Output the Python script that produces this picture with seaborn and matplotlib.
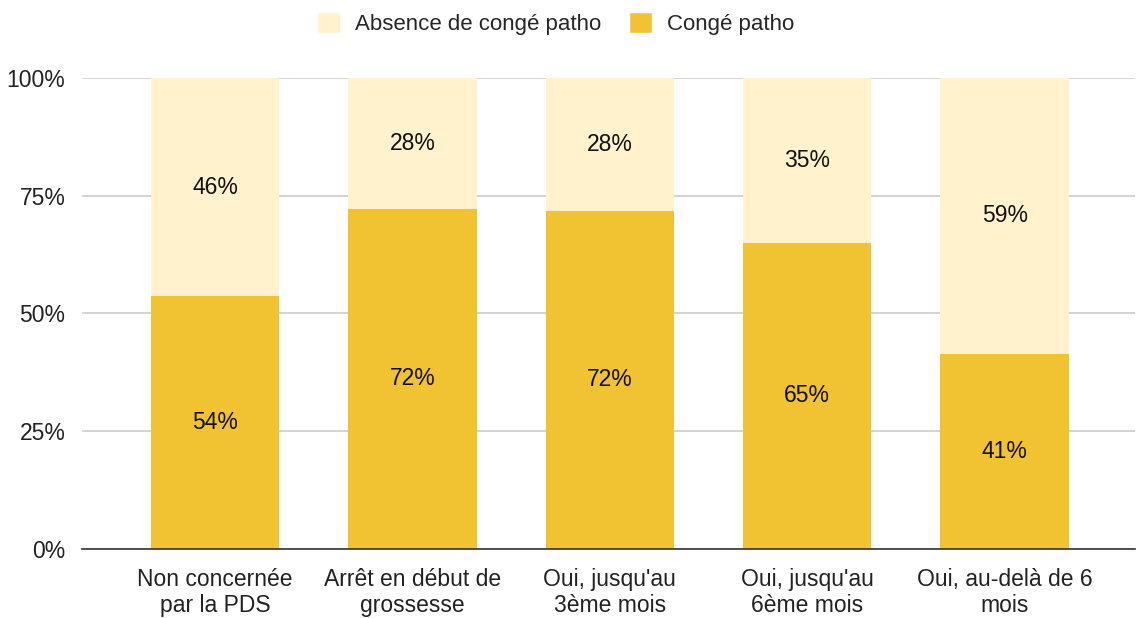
import pandas as pd
import numpy as np
import matplotlib.pyplot as plt
import seaborn as sns
from matplotlib.patches import Patch

# data (percent)
categories = ["Non concernée\npar la PDS", "Arrêt en début de\ngrossesse",
              "Oui, jusqu'au\n3ème mois", "Oui, jusqu'au\n6ème mois",
              "Oui, au-delà de 6\nmois"]
conge = [53.7, 72.2, 71.8, 65.0, 41.4]
absence = [46.3, 27.8, 28.2, 35.0, 58.6]
conge_labels = ["54%", "72%", "72%", "65%", "41%"]
absence_labels = ["46%", "28%", "28%", "35%", "59%"]

col_conge = "#F1C232"
col_abs = "#FFF2CC"

sns.set_style("white")
plt.rcParams['font.family'] = ['Liberation Sans', 'DejaVu Sans']

df = pd.DataFrame({"cat": categories, "conge": conge, "absence": absence})

fig = plt.figure(figsize=(11.36, 6.18), dpi=100)
ax = fig.add_axes([0.0722, 0.1117, 0.9268, 0.7621])

sns.barplot(data=df, x="cat", y="conge", color=col_conge, width=0.65,
            saturation=1, ax=ax, zorder=3, linewidth=0)
sns.barplot(data=df, x="cat", y="absence", color=col_abs, width=0.65,
            saturation=1, ax=ax, bottom=df["conge"], zorder=3, linewidth=0)

# value labels centred in each segment
for i in range(len(categories)):
    ax.text(i, conge[i] / 2, conge_labels[i], ha="center", va="center",
            fontsize=16.5, color="#111111", zorder=4)
    ax.text(i, conge[i] + absence[i] / 2, absence_labels[i], ha="center",
            va="center", fontsize=16.5, color="#111111", zorder=4)

ax.set_ylim(0, 100)
ax.set_xlim(-0.675, 4.66)
ax.set_yticks([0, 25, 50, 75, 100])
ax.set_yticklabels(["0%", "25%", "50%", "75%", "100%"])
ax.yaxis.grid(True, color="#cccccc", linewidth=1.2, zorder=0)
ax.set_axisbelow(True)
for s in ["top", "right", "left"]:
    ax.spines[s].set_visible(False)
ax.spines["bottom"].set_color("#333333")
ax.spines["bottom"].set_linewidth(1.2)
ax.spines["bottom"].set_zorder(5)
ax.tick_params(axis="both", length=0, labelsize=16.5, colors="#222222")
ax.tick_params(axis="y", pad=12)
ax.tick_params(axis="x", pad=14)
for lbl in ax.get_xticklabels():
    lbl.set_linespacing(1.15)
ax.set_xlabel("")
ax.set_ylabel("")

handles = [Patch(facecolor=col_abs, label="Absence de congé patho"),
           Patch(facecolor=col_conge, label="Congé patho")]
fig.legend(handles=handles, loc="center", bbox_to_anchor=(0.489, 0.962),
           ncol=2, frameon=False, fontsize=16, handlelength=1.04,
           handleheight=1.04, columnspacing=1.26, handletextpad=0.68)

fig.savefig("out.png", dpi=100)
